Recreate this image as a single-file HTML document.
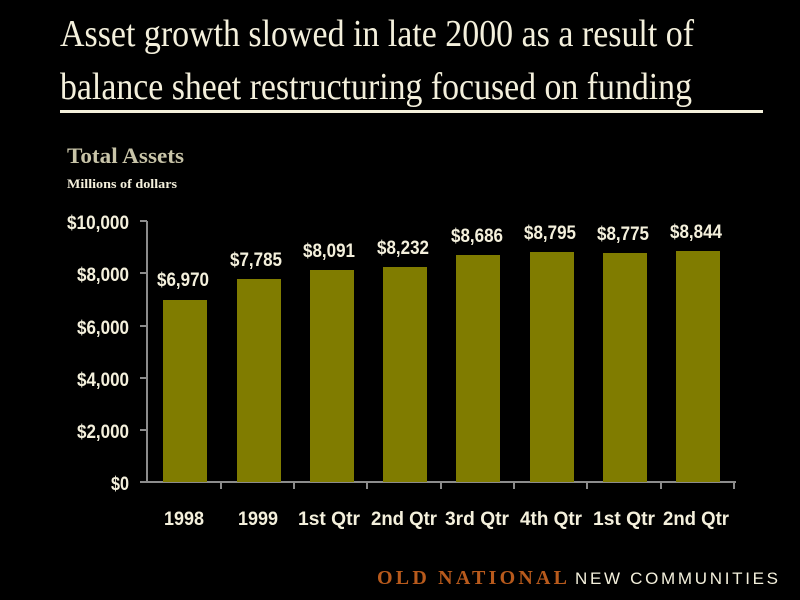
<!DOCTYPE html>
<html><head><meta charset="utf-8"><style>
html,body{margin:0;padding:0;background:#000;}
svg{display:block}
</style></head><body>
<svg width="800" height="600" xmlns="http://www.w3.org/2000/svg">
<rect width="800" height="600" fill="#000"/>
<g font-family="Liberation Serif, serif" fill="#f4f0dc">
<text x="60" y="46" font-size="38" textLength="634" lengthAdjust="spacingAndGlyphs">Asset growth slowed in late 2000 as a result of</text>
<text x="60" y="99" font-size="38" textLength="632" lengthAdjust="spacingAndGlyphs">balance sheet restructuring focused on funding</text>
</g>
<rect x="60" y="110" width="703" height="3" fill="#f4f0dc"/>
<text x="67" y="163" font-family="Liberation Serif, serif" font-weight="bold" font-size="22" fill="#c8c4a8" textLength="117" lengthAdjust="spacingAndGlyphs">Total Assets</text>
<text x="67" y="188" font-family="Liberation Serif, serif" font-weight="bold" font-size="13" fill="#f4f0dc" textLength="110" lengthAdjust="spacingAndGlyphs">Millions of dollars</text>
<g stroke="#8c8c8c" stroke-width="2" fill="none">
<line x1="147" y1="221" x2="147" y2="483"/>
<line x1="140" y1="482" x2="736" y2="482"/>
<line x1="140" y1="221" x2="147" y2="221"/>
<line x1="140" y1="273" x2="147" y2="273"/>
<line x1="140" y1="326" x2="147" y2="326"/>
<line x1="140" y1="378" x2="147" y2="378"/>
<line x1="140" y1="430" x2="147" y2="430"/>
<line x1="221" y1="482" x2="221" y2="489"/>
<line x1="294" y1="482" x2="294" y2="489"/>
<line x1="367" y1="482" x2="367" y2="489"/>
<line x1="441" y1="482" x2="441" y2="489"/>
<line x1="514" y1="482" x2="514" y2="489"/>
<line x1="587" y1="482" x2="587" y2="489"/>
<line x1="661" y1="482" x2="661" y2="489"/>
<line x1="734" y1="482" x2="734" y2="489"/>
</g>
<g font-family="Liberation Sans, sans-serif" font-weight="bold" font-size="19" fill="#f4f0dc" lengthAdjust="spacingAndGlyphs">
<text x="67" y="229" textLength="62" lengthAdjust="spacingAndGlyphs">$10,000</text>
<text x="77" y="281" textLength="52" lengthAdjust="spacingAndGlyphs">$8,000</text>
<text x="77" y="334" textLength="52" lengthAdjust="spacingAndGlyphs">$6,000</text>
<text x="77" y="386" textLength="52" lengthAdjust="spacingAndGlyphs">$4,000</text>
<text x="77" y="438" textLength="52" lengthAdjust="spacingAndGlyphs">$2,000</text>
<text x="111" y="490" textLength="18" lengthAdjust="spacingAndGlyphs">$0</text>
</g>
<g fill="#807c00">
<rect x="163" y="300" width="44" height="182"/>
<rect x="237" y="279" width="44" height="203"/>
<rect x="310" y="270" width="44" height="212"/>
<rect x="383" y="267" width="44" height="215"/>
<rect x="456" y="255" width="44" height="227"/>
<rect x="530" y="252" width="44" height="230"/>
<rect x="603" y="253" width="44" height="229"/>
<rect x="676" y="251" width="44" height="231"/>
</g>
<g font-family="Liberation Sans, sans-serif" font-weight="bold" font-size="19" fill="#f4f0dc">
<text x="157" y="286" textLength="52" lengthAdjust="spacingAndGlyphs">$6,970</text>
<text x="230" y="266" textLength="52" lengthAdjust="spacingAndGlyphs">$7,785</text>
<text x="303" y="257" textLength="52" lengthAdjust="spacingAndGlyphs">$8,091</text>
<text x="377" y="254" textLength="52" lengthAdjust="spacingAndGlyphs">$8,232</text>
<text x="451" y="242" textLength="52" lengthAdjust="spacingAndGlyphs">$8,686</text>
<text x="524" y="239" textLength="52" lengthAdjust="spacingAndGlyphs">$8,795</text>
<text x="597" y="240" textLength="52" lengthAdjust="spacingAndGlyphs">$8,775</text>
<text x="670" y="238" textLength="52" lengthAdjust="spacingAndGlyphs">$8,844</text>
</g>
<g font-family="Liberation Sans, sans-serif" font-weight="bold" font-size="19" fill="#f4f0dc">
<text x="164" y="525" textLength="40" lengthAdjust="spacingAndGlyphs">1998</text>
<text x="238" y="525" textLength="40" lengthAdjust="spacingAndGlyphs">1999</text>
<text x="298" y="525" textLength="62" lengthAdjust="spacingAndGlyphs">1st Qtr</text>
<text x="371" y="525" textLength="66" lengthAdjust="spacingAndGlyphs">2nd Qtr</text>
<text x="445" y="525" textLength="64" lengthAdjust="spacingAndGlyphs">3rd Qtr</text>
<text x="520" y="525" textLength="62" lengthAdjust="spacingAndGlyphs">4th Qtr</text>
<text x="593" y="525" textLength="62" lengthAdjust="spacingAndGlyphs">1st Qtr</text>
<text x="663" y="525" textLength="66" lengthAdjust="spacingAndGlyphs">2nd Qtr</text>
</g>
<text x="377" y="584" font-family="Liberation Serif, serif" font-weight="bold" font-size="20" fill="#b85a1c" textLength="190" lengthAdjust="spacing">OLD NATIONAL</text>
<text x="575" y="584" font-family="Liberation Sans, sans-serif" font-size="17" fill="#f4f0dc" textLength="203" lengthAdjust="spacing">NEW COMMUNITIES</text>
</svg>
</body></html>
